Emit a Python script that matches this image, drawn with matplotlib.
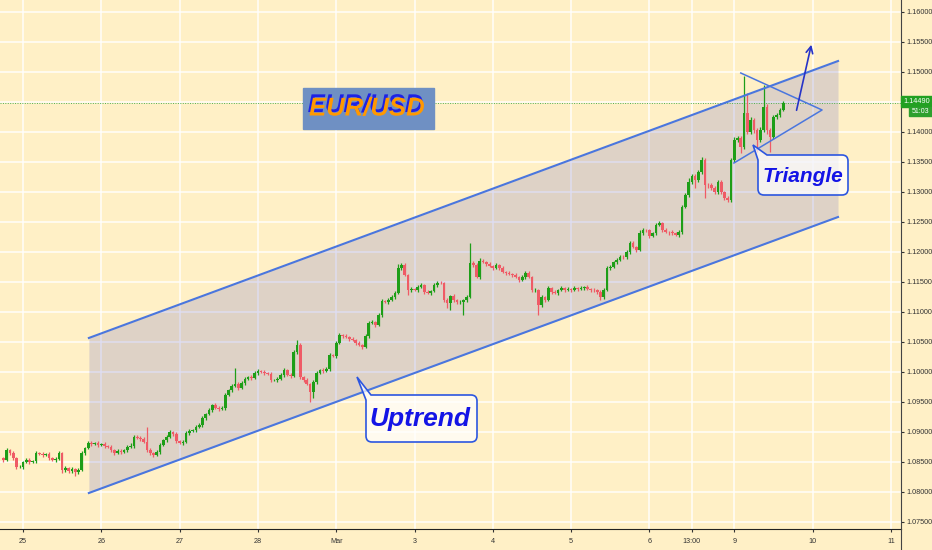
import matplotlib
matplotlib.use("Agg")
import matplotlib.pyplot as plt
import matplotlib.patheffects as pe
from matplotlib.patches import Rectangle, PathPatch
from matplotlib.path import Path
from matplotlib.lines import Line2D
from matplotlib.transforms import IdentityTransform

# hourly EUR/USD closes
closes = [
    1.08533, 1.08700, 1.08650, 1.08567, 1.08417, 1.08420, 1.08500, 1.08533, 1.08500, 1.08517, 1.08650, 1.08633,
    1.08617, 1.08633, 1.08567, 1.08533, 1.08550, 1.08650, 1.08367, 1.08400, 1.08350, 1.08383, 1.08333, 1.08367,
    1.08650, 1.08733, 1.08817, 1.08800, 1.08817, 1.08783, 1.08800, 1.08767, 1.08750, 1.08700, 1.08650, 1.08683,
    1.08667, 1.08700, 1.08750, 1.08767, 1.08917, 1.08900, 1.08883, 1.08833, 1.08700, 1.08650, 1.08617, 1.08667,
    1.08783, 1.08867, 1.08917, 1.09000, 1.08967, 1.08850, 1.08817, 1.08833, 1.08983, 1.09017, 1.09033, 1.09083,
    1.09117, 1.09233, 1.09300, 1.09367, 1.09450, 1.09400, 1.09383, 1.09400, 1.09617, 1.09700, 1.09767, 1.09800,
    1.09733, 1.09817, 1.09883, 1.09917, 1.09900, 1.09983, 1.10017, 1.10000, 1.09983, 1.09967, 1.09867, 1.09870,
    1.09883, 1.09950, 1.10033, 1.09950, 1.09933, 1.10333, 1.10450, 1.09917, 1.09867, 1.09800, 1.09667, 1.09833,
    1.09983, 1.10033, 1.10017, 1.10050, 1.10283, 1.10267, 1.10483, 1.10617, 1.10600, 1.10583, 1.10550, 1.10533,
    1.10483, 1.10450, 1.10417, 1.10600, 1.10817, 1.10833, 1.10783, 1.10950, 1.11183, 1.11167, 1.11200, 1.11250,
    1.11317, 1.11733, 1.11783, 1.11617, 1.11367, 1.11383, 1.11367, 1.11417, 1.11450, 1.11333, 1.11317, 1.11350,
    1.11450, 1.11483, 1.11480, 1.11200, 1.11150, 1.11267, 1.11200, 1.11167, 1.11170, 1.11200, 1.11250, 1.11817,
    1.11783, 1.11583, 1.11850, 1.11833, 1.11800, 1.11767, 1.11733, 1.11783, 1.11733, 1.11667, 1.11650, 1.11633,
    1.11617, 1.11583, 1.11533, 1.11583, 1.11650, 1.11583, 1.11367, 1.11370, 1.11117, 1.11250, 1.11200, 1.11400,
    1.11333, 1.11317, 1.11367, 1.11400, 1.11367, 1.11383, 1.11367, 1.11400, 1.11383, 1.11400, 1.11417, 1.11383,
    1.11367, 1.11360, 1.11333, 1.11250, 1.11367, 1.11733, 1.11750, 1.11833, 1.11867, 1.11917, 1.11910, 1.12000,
    1.12150, 1.12083, 1.12033, 1.12317, 1.12367, 1.12360, 1.12267, 1.12317, 1.12450, 1.12483, 1.12367, 1.12333,
    1.12330, 1.12317, 1.12283, 1.12333, 1.12750, 1.12950, 1.13167, 1.13267, 1.13200, 1.13333, 1.13533, 1.13117,
    1.13110, 1.13067, 1.13000, 1.13167, 1.13000, 1.12900, 1.12867, 1.13533, 1.13867, 1.13900, 1.13750, 1.14317,
    1.14000, 1.14200, 1.14033, 1.13867, 1.14033, 1.14417, 1.14033, 1.13917, 1.14250, 1.14283, 1.14367, 1.14490,
]
first_open = 1.08560

# wick lengths beyond the body, in pips
upper_wick = [
    3, 4, 2, 3, 2, 3, 2, 3, 4, 2, 3, 2, 3, 2, 3, 2, 3, 4, 2, 3, 2, 3, 2, 3,
    3, 2, 3, 4, 2, 3, 2, 3, 2, 3, 2, 4, 3, 2, 3, 5, 4, 3, 3, 4, 25, 3, 2, 3,
    3, 2, 4, 3, 2, 3, 2, 3, 4, 3, 2, 3, 4, 3, 2, 3, 2, 3, 4, 3, 3, 2, 3, 27,
    3, 4, 3, 2, 3, 4, 3, 2, 3, 2, 3, 2, 3, 4, 3, 2, 3, 4, 8, 3, 2, 3, 2, 3,
    3, 2, 3, 4, 3, 2, 4, 3, 2, 3, 2, 3, 2, 3, 2, 3, 4, 3, 2, 4, 3, 2, 3, 4,
    3, 6, 4, 3, 2, 3, 2, 4, 3, 2, 3, 2, 3, 4, 3, 2, 3, 2, 3, 2, 3, 2, 3, 33,
    4, 3, 5, 3, 2, 3, 2, 3, 2, 3, 2, 3, 2, 3, 2, 3, 4, 3, 2, 3, 2, 3, 2, 3,
    2, 3, 2, 3, 2, 3, 2, 3, 2, 3, 2, 3, 2, 3, 2, 4, 3, 4, 3, 2, 3, 3, 4, 3,
    4, 3, 2, 5, 3, 2, 3, 2, 4, 3, 2, 3, 2, 3, 2, 3, 3, 4, 6, 4, 3, 4, 5, 3,
    3, 4, 3, 4, 3, 2, 3, 4, 5, 4, 3, 62, 33, 5, 4, 4, 5, 37, 5, 3, 4, 4, 3, 3,
]
lower_wick = [
    3, 2, 3, 4, 3, 2, 3, 2, 3, 2, 3, 2, 3, 2, 3, 2, 3, 2, 5, 3, 4, 3, 6, 3,
    2, 3, 2, 3, 2, 3, 2, 3, 2, 4, 3, 2, 3, 2, 3, 2, 3, 2, 3, 2, 3, 4, 3, 2,
    3, 2, 3, 2, 4, 3, 2, 3, 2, 3, 2, 3, 2, 4, 3, 2, 3, 2, 3, 2, 3, 2, 3, 2,
    3, 2, 3, 2, 3, 2, 3, 2, 3, 2, 3, 2, 3, 2, 3, 2, 3, 2, 3, 4, 3, 2, 17, 10,
    3, 2, 3, 2, 3, 2, 3, 2, 3, 2, 3, 2, 3, 2, 3, 2, 3, 2, 3, 2, 3, 2, 3, 2,
    3, 2, 3, 2, 8, 3, 2, 3, 2, 3, 2, 3, 2, 3, 2, 3, 8, 12, 3, 4, 3, 22, 3, 2,
    3, 2, 3, 2, 3, 2, 3, 2, 3, 2, 3, 2, 3, 2, 3, 2, 3, 2, 3, 4, 17, 3, 4, 2,
    3, 2, 3, 2, 3, 2, 3, 2, 3, 2, 3, 2, 3, 2, 3, 5, 3, 2, 3, 2, 3, 2, 3, 2,
    3, 2, 3, 2, 3, 2, 3, 2, 3, 2, 3, 2, 4, 3, 2, 3, 3, 2, 3, 4, 13, 3, 3, 22,
    4, 3, 4, 3, 4, 3, 4, 3, 3, 4, 10, 3, 4, 3, 5, 20, 4, 3, 6, 25, 4, 3, 3, 2,
]

# x axis: candle index (hours), tick at each day start
day_pos = [6, 30, 54, 78, 102, 126, 150, 174, 198, 211, 224, 248, 272]
day_labels = ["25", "26", "27", "28", "Mar", "3", "4", "5", "6", "13:00", "9", "10", "11"]
price_ticks = [1.075, 1.080, 1.085, 1.090, 1.095, 1.100, 1.105, 1.110, 1.115, 1.120,
               1.125, 1.130, 1.135, 1.140, 1.145, 1.150, 1.155, 1.160]
last_price = 1.14490
countdown = "51:03"

# drawings (candle index, price)
channel_x = [26.2, 255.8]
channel_top = [1.10567, 1.15183]
channel_bottom = [1.07983, 1.12583]
triangle_x = [226.0, 250.9, 223.9]
triangle_y = [1.14983, 1.14367, 1.13483]
arrow_start = (242.9, 1.14317)
arrow_end = (247.8, 1.15500)

W, H = 932, 550
bg = "#FFF0C6"
up_col = "#1E9E18"
down_col = "#EF5B66"
line_blue = "#4A76DE"
label_font = ["Liberation Sans", "DejaVu Sans"]

fig = plt.figure(figsize=(W / 100, H / 100), dpi=100, facecolor=bg)
ax = fig.add_axes([0, 21 / H, 901 / W, 529 / H], facecolor=bg)

# candles
opens = [first_open] + closes[:-1]
xs = list(range(len(closes)))
cols, bottoms, heights, highs, lows = [], [], [], [], []
for o, c, uw, lw in zip(opens, closes, upper_wick, lower_wick):
    cols.append(up_col if c >= o else down_col)
    bottoms.append(min(o, c))
    heights.append(max(abs(c - o), 0.00004))
    highs.append(max(o, c) + uw * 0.0001)
    lows.append(min(o, c) - lw * 0.0001)
ax.vlines(xs, lows, highs, colors=cols, linewidth=0.9, zorder=3)
ax.bar(xs, heights, bottom=bottoms, width=0.82, color=cols, linewidth=0, zorder=4)

# channel
ax.fill_between(channel_x, channel_bottom, channel_top, color=(90 / 255, 90 / 255, 200 / 255),
                alpha=0.2, linewidth=0, zorder=1)
ax.plot(channel_x, channel_top, color=line_blue, lw=1.5, zorder=5)
ax.plot(channel_x, channel_bottom, color=line_blue, lw=1.5, zorder=5)

# triangle + arrow
ax.plot(triangle_x, triangle_y, color=line_blue, lw=1.1, zorder=5)
ax.annotate("", xy=arrow_end, xytext=arrow_start,
            arrowprops=dict(arrowstyle="->", color="#2633C8", lw=1.2, mutation_scale=12), zorder=6)

# last price line
ax.axhline(last_price, color="#4CAF50", lw=0.7, ls=(0, (1, 1.5)), zorder=2)

ax.set_xlim(-1.04, 275.1)
ax.set_ylim(1.07383, 1.162)
ax.set_xticks(day_pos)
ax.set_xticklabels(day_labels)
ax.set_yticks(price_ticks)
# the 1.14500 label sits under the last-price tag
ax.set_yticklabels(["" if abs(p - last_price) < 0.001 else "%.5f" % p for p in price_ticks])
ax.yaxis.tick_right()
ax.set_axisbelow(True)
ax.grid(color="white", lw=1.1, alpha=0.9)
for s in ["left", "top"]:
    ax.spines[s].set_visible(False)
ax.spines["right"].set_color("#444444")
ax.spines["bottom"].set_color("#222222")
ax.tick_params(axis="both", length=2.5, width=0.8, colors="#333333", labelsize=5.2)
ax.tick_params(axis="y", pad=1.5)
ax.tick_params(axis="x", pad=4)
for lab in ax.get_xticklabels() + ax.get_yticklabels():
    lab.set_family(label_font)
fig.add_artist(Line2D([901 / W, 901 / W], [0, 21 / H], color="#444444", lw=0.8))

# price label on the axis
def px_rect(x0, y0, x1, y1, color):
    fig.add_artist(Rectangle((x0, H - y1), x1 - x0, y1 - y0, color=color,
                             transform=IdentityTransform(), zorder=10))

px_rect(901, 96, 932, 106.5, "#22A022")
px_rect(909, 107, 932, 115.5, "#2EA02E")
fig.text(916.5 / W, 1 - 101.5 / H, "%.5f" % last_price, color="white", fontsize=5.2,
         family=label_font, ha="center", va="center", zorder=11)
fig.text(920.5 / W, 1 - 111.3 / H, countdown, color="white", fontsize=5,
         family=label_font, ha="center", va="center", zorder=11)

# EUR/USD label, orange with a blue drop shadow
px_rect(303, 88, 434, 129, "#6F90C3")
fig.text(367 / W, 1 - 108.5 / H, "EUR/USD", color="#FF9800", fontsize=18.5, fontweight="bold",
         fontstyle="italic", family=label_font, ha="center", va="center", zorder=12,
         path_effects=[pe.SimplePatchShadow(offset=(-1, 2.5), shadow_rgbFace="#1E22E6", alpha=1),
                       pe.Normal()])

# callout boxes (pixel coords, origin top-left)
def callout(x0, y0, x1, y1, tip, base_r, base_l, r=6):
    pts = [
        (base_r, y0), (x1 - r, y0), (x1, y0), (x1, y0 + r),
        (x1, y1 - r), (x1, y1), (x1 - r, y1),
        (x0 + r, y1), (x0, y1), (x0, y1 - r),
        (x0, base_l), tip, (base_r, y0),
    ]
    codes = [Path.MOVETO, Path.LINETO, Path.CURVE3, Path.CURVE3,
             Path.LINETO, Path.CURVE3, Path.CURVE3,
             Path.LINETO, Path.CURVE3, Path.CURVE3,
             Path.LINETO, Path.LINETO, Path.CLOSEPOLY]
    path = Path([(x, H - y) for x, y in pts], codes)
    fig.add_artist(PathPatch(path, facecolor=(1, 1, 1, 0.72), edgecolor="#2C56E0", lw=1.2,
                             transform=IdentityTransform(), zorder=10))

callout(758, 155, 848, 195, (753, 145), 767, 160)
fig.text(803 / W, 1 - 176 / H, "Triangle", color="#1414E6", fontsize=15, fontweight="bold",
         fontstyle="italic", family=label_font, ha="center", va="center", zorder=11)

callout(366, 395, 477, 442, (357, 377), 371, 400)
fig.text(420 / W, 1 - 419 / H, "Uptrend", color="#1414E6", fontsize=19, fontweight="bold",
         fontstyle="italic", family=label_font, ha="center", va="center", zorder=11)

fig.savefig("out.png", dpi=100, facecolor=bg)
